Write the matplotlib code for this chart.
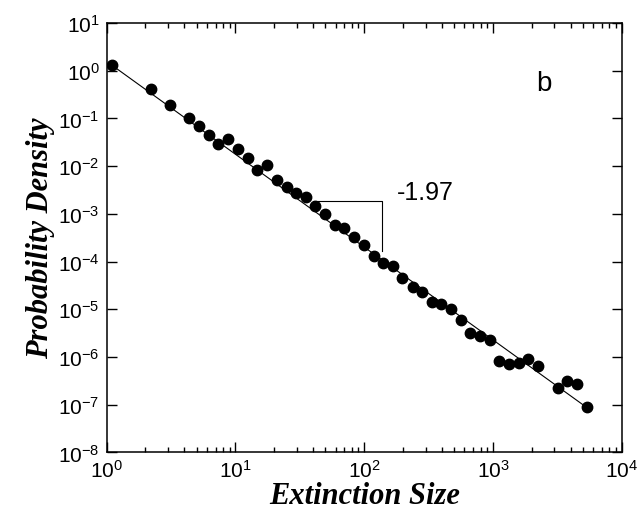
import numpy as np
import matplotlib
matplotlib.use('Agg')
import matplotlib.pyplot as plt

plt.rcParams['font.family'] = ['Liberation Sans', 'DejaVu Sans']
plt.rcParams['mathtext.default'] = 'regular'
plt.rcParams['axes.unicode_minus'] = False

# extinction size vs probability density
sizes = [1.09, 2.19, 3.10, 4.37, 5.19, 6.18, 7.34, 8.77, 10.4, 12.4, 14.7,
         17.6, 20.9, 24.9, 29.5, 35.1, 41.7, 49.5, 59.0, 70.1, 83.4, 99.3,
         118, 140, 167, 198, 237, 282, 334, 397, 472, 561, 667, 793, 941,
         1119, 1331, 1578, 1878, 2233, 3170, 3767, 4479, 5334]
density = [1.32, 0.413, 0.194, 0.1035, 0.0693, 0.0455, 0.0290, 0.0365,
           0.0232, 0.0148, 0.00828, 0.01055, 0.00511, 0.0037, 0.00277,
           0.00228, 0.00146, 0.00099, 5.97e-4, 5.16e-4, 3.22e-4, 2.22e-4,
           1.32e-4, 9.16e-5, 8.17e-5, 4.45e-5, 2.88e-5, 2.29e-5, 1.42e-5,
           1.27e-5, 1.01e-5, 5.85e-6, 3.17e-6, 2.74e-6, 2.23e-6, 8.32e-7,
           7.0e-7, 7.56e-7, 9.03e-7, 6.35e-7, 2.26e-7, 3.17e-7, 2.66e-7,
           8.77e-8]

# power law fit, slope -1.97
fit_x = [1.09, 5334]
fit_y = [1.32, 8.77e-8]

# slope marker
tri_x = [40.0, 137, 137]
tri_y = [1.88e-3, 1.88e-3, 1.68e-4]

fig = plt.figure(figsize=(6.41, 5.10), dpi=100)
ax = fig.add_axes([0.1665, 0.111, 0.8035, 0.842])

ax.plot(fit_x, fit_y, color='black', linewidth=0.8)
ax.plot(sizes, density, 'o', color='black', markersize=7.5)
ax.plot(tri_x, tri_y, color='black', linewidth=0.8)

ax.set_xscale('log')
ax.set_yscale('log')
ax.set_xlim(1, 1e4)
ax.set_ylim(1e-8, 1e1)
ax.set_yticks([10.0 ** k for k in range(-8, 2)])

ax.text(178, 2.86e-3, '-1.97', fontsize=18, va='center', ha='left')
ax.text(0.849, 0.86, 'b', fontsize=20, va='center', ha='center',
        transform=ax.transAxes)

ax.set_xlabel('Extinction Size', family='Liberation Serif', fontsize=22,
              fontweight='bold', style='italic', labelpad=0)
ax.set_ylabel('Probability Density', family='Liberation Serif', fontsize=22,
              fontweight='bold', style='italic', labelpad=2)

ax.tick_params(which='both', direction='in', top=True, right=True,
               labelsize=15, width=1)
ax.tick_params(which='major', length=7, pad=5)
ax.tick_params(which='minor', length=3.5)
for s in ax.spines.values():
    s.set_linewidth(1.1)

fig.savefig('out.png', dpi=100)
